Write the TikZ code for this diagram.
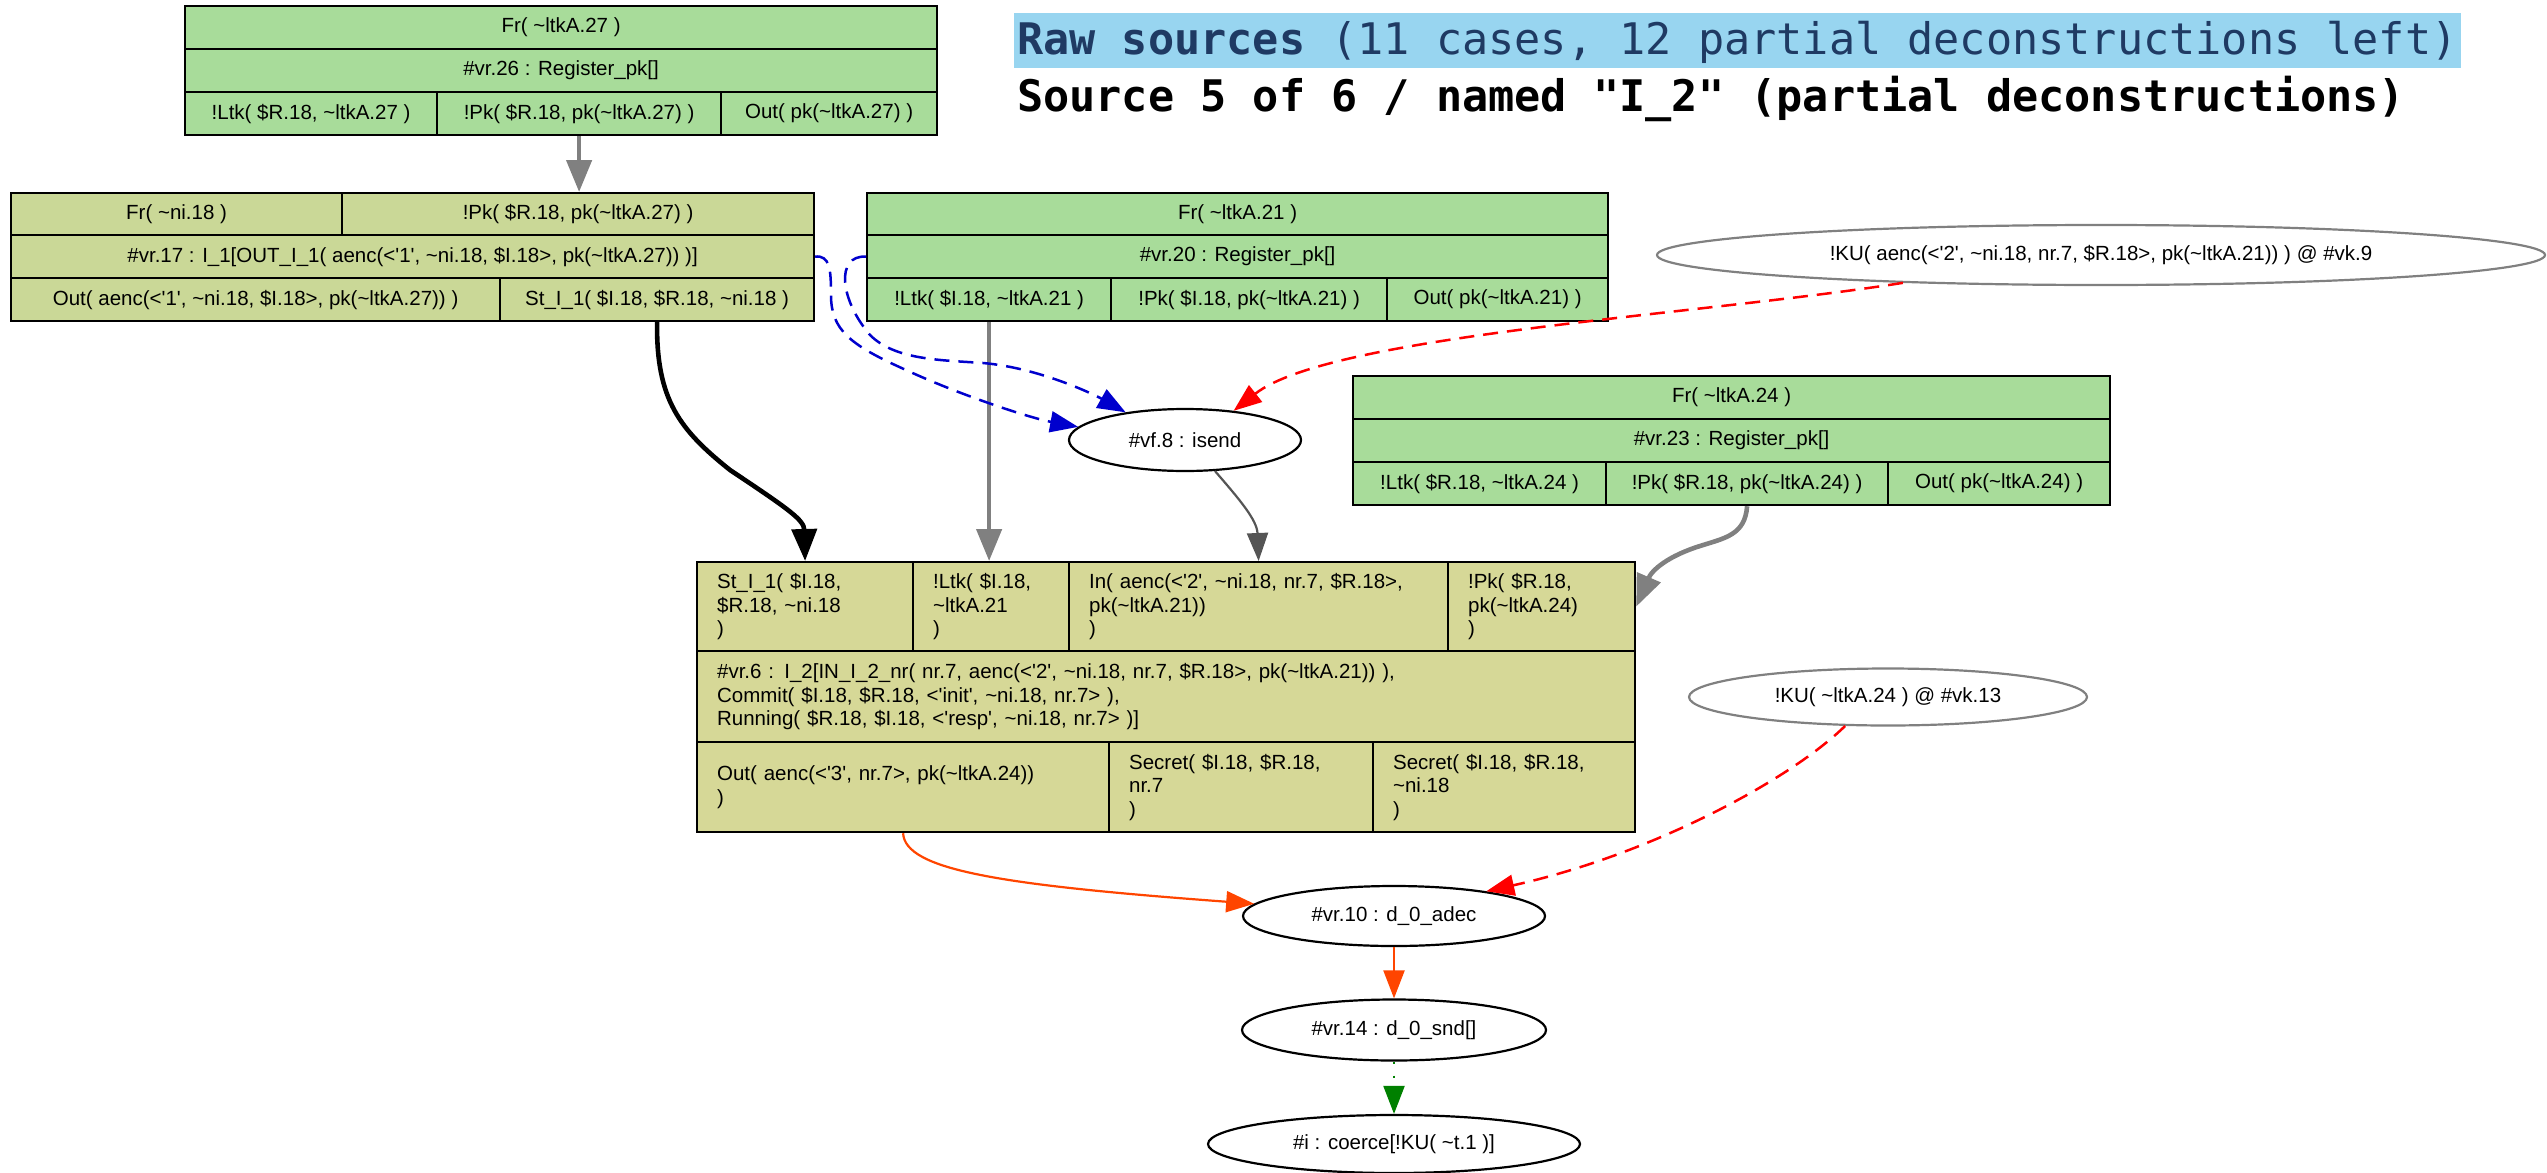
\documentclass[tikz,border=0pt]{standalone}
\usepackage{fontspec}
\setmainfont{Liberation Sans}[Ligatures=TeXOff]
\newfontfamily\titlefont{DejaVu Sans Mono}[Ligatures=TeXOff]
\usetikzlibrary{arrows.meta,shapes.geometric}
\newcommand\tld{\textasciitilde}
\newcommand\lbl{\fontsize{20.5}{23.5}\selectfont}
\definecolor{regfill}{HTML}{A8DC9A}
\definecolor{ruleafill}{HTML}{CAD897}
\definecolor{rulebfill}{HTML}{D6D897}
\definecolor{titlebg}{HTML}{98D5F0}
\definecolor{titleblue}{HTML}{1F3A63}
\definecolor{edgegray}{HTML}{808080}
\definecolor{darkedge}{HTML}{555555}
\definecolor{dashblue}{HTML}{0000CD}
\definecolor{orangered}{HTML}{FF4500}
\definecolor{darkgreen}{HTML}{008000}

\tikzset{
  cell/.style={draw=black, line width=2.2pt, inner sep=0pt, anchor=north west, font=\lbl, align=center},
  lcell/.style={cell, align=left, inner xsep=20pt},
  fact/.style={ellipse, draw=black, line width=2.2pt, inner sep=0pt, font=\lbl},
  kfact/.style={fact, draw=edgegray},
  tip/.style={-{Triangle[length=28pt,width=21pt]}},
  plain/.style={line width=2.2pt, tip},
  heavy/.style={line width=4.6pt, -{Triangle[length=32pt,width=25pt]}},
  dashedge/.style={line width=2.5pt, dash pattern=on 15pt off 9pt, tip},
  titletext/.style={anchor=base west, inner sep=0pt, font=\titlefont\fontsize{43.5}{50}\selectfont},
}

\begin{document}
\begin{tikzpicture}[x=1pt,y=-1pt]
\useasboundingbox (0,0) rectangle (2547,1172);

% heading
\node[titletext, fill=titlebg, text=titleblue, inner xsep=3pt, text height=42pt, text depth=13pt] (head1) at (1014,55)
  {\textbf{Raw sources} (11 cases, 12 partial deconstructions left)};
\node[titletext] (head2) at (1017,111)
  {\textbf{Source 5 of 6 / named "I\_2" (partial deconstructions)}};

% rule #vr.26 : Register_pk
\node[cell, fill=regfill, minimum width=752pt, minimum height=43pt] (aFr) at (184,5) {Fr( \tld ltkA.27 )};
\node[cell, fill=regfill, minimum width=752pt, minimum height=43pt] (aReg) at (184,48) {\#vr.26 : Register\_pk[]};
\node[cell, fill=regfill, minimum width=252pt, minimum height=43pt] (aLtk) at (184,91) {!Ltk( \$R.18, \tld ltkA.27 )};
\node[cell, fill=regfill, minimum width=284pt, minimum height=43pt] (aPk) at (436,91) {!Pk( \$R.18, pk(\tld ltkA.27) )};
\node[cell, fill=regfill, minimum width=216pt, minimum height=43pt] (aOut) at (720,91) {Out( pk(\tld ltkA.27) )};

% rule #vr.17 : I_1
\node[cell, fill=ruleafill, minimum width=331pt, minimum height=42pt] (bFr) at (10,192) {Fr( \tld ni.18 )};
\node[cell, fill=ruleafill, minimum width=472pt, minimum height=42pt] (bPk) at (341,192) {!Pk( \$R.18, pk(\tld ltkA.27) )};
\node[cell, fill=ruleafill, minimum width=803pt, minimum height=43pt] (bMid) at (10,234) {\#vr.17 : I\_1[OUT\_I\_1( aenc(<'1', \tld ni.18, \$I.18>, pk(\tld ltkA.27)) )]};
\node[cell, fill=ruleafill, minimum width=489pt, minimum height=43pt] (bOut) at (10,277) {Out( aenc(<'1', \tld ni.18, \$I.18>, pk(\tld ltkA.27)) )};
\node[cell, fill=ruleafill, minimum width=314pt, minimum height=43pt] (bSt) at (499,277) {St\_I\_1( \$I.18, \$R.18, \tld ni.18 )};

% rule #vr.20 : Register_pk
\node[cell, fill=regfill, minimum width=741pt, minimum height=42pt] (cFr) at (866,192) {Fr( \tld ltkA.21 )};
\node[cell, fill=regfill, minimum width=741pt, minimum height=43pt] (cReg) at (866,234) {\#vr.20 : Register\_pk[]};
\node[cell, fill=regfill, minimum width=244pt, minimum height=43pt] (cLtk) at (866,277) {!Ltk( \$I.18, \tld ltkA.21 )};
\node[cell, fill=regfill, minimum width=276pt, minimum height=43pt] (cPk) at (1110,277) {!Pk( \$I.18, pk(\tld ltkA.21) )};
\node[cell, fill=regfill, minimum width=221pt, minimum height=43pt] (cOut) at (1386,277) {Out( pk(\tld ltkA.21) )};

% rule #vr.23 : Register_pk
\node[cell, fill=regfill, minimum width=757pt, minimum height=43pt] (dFr) at (1352,375) {Fr( \tld ltkA.24 )};
\node[cell, fill=regfill, minimum width=757pt, minimum height=43pt] (dReg) at (1352,418) {\#vr.23 : Register\_pk[]};
\node[cell, fill=regfill, minimum width=253pt, minimum height=43pt] (dLtk) at (1352,461) {!Ltk( \$R.18, \tld ltkA.24 )};
\node[cell, fill=regfill, minimum width=282pt, minimum height=43pt] (dPk) at (1605,461) {!Pk( \$R.18, pk(\tld ltkA.24) )};
\node[cell, fill=regfill, minimum width=222pt, minimum height=43pt] (dOut) at (1887,461) {Out( pk(\tld ltkA.24) )};

% rule #vr.6 : I_2
\node[lcell, fill=rulebfill, text width=176pt, minimum height=89pt] (eSt) at (696,561) {St\_I\_1( \$I.18,\\ \$R.18, \tld ni.18\\ )};
\node[lcell, fill=rulebfill, text width=116pt, minimum height=89pt] (eLtk) at (912,561) {!Ltk( \$I.18,\\ \tld ltkA.21\\ )};
\node[lcell, fill=rulebfill, text width=339pt, minimum height=89pt] (eIn) at (1068,561) {In( aenc(<'2', \tld ni.18, nr.7, \$R.18>,\\ pk(\tld ltkA.21))\\ )};
\node[lcell, fill=rulebfill, text width=147pt, minimum height=89pt] (ePk) at (1447,561) {!Pk( \$R.18,\\ pk(\tld ltkA.24)\\ )};
\node[lcell, fill=rulebfill, text width=898pt, minimum height=91pt] (eMid) at (696,650) {\#vr.6 : I\_2[IN\_I\_2\_nr( nr.7, aenc(<'2', \tld ni.18, nr.7, \$R.18>, pk(\tld ltkA.21)) ),\\ Commit( \$I.18, \$R.18, <'init', \tld ni.18, nr.7> ),\\ Running( \$R.18, \$I.18, <'resp', \tld ni.18, nr.7> )]};
\node[lcell, fill=rulebfill, text width=372pt, minimum height=90pt] (eOut) at (696,741) {Out( aenc(<'3', nr.7>, pk(\tld ltkA.24))\\ )};
\node[lcell, fill=rulebfill, text width=224pt, minimum height=90pt] (eSecA) at (1108,741) {Secret( \$I.18, \$R.18,\\ nr.7\\ )};
\node[lcell, fill=rulebfill, text width=222pt, minimum height=90pt] (eSecB) at (1372,741) {Secret( \$I.18, \$R.18,\\ \tld ni.18\\ )};

% single facts
\node[fact, minimum width=232pt, minimum height=62pt] (isend) at (1185,440) {\#vf.8 : isend};
\node[kfact, minimum width=888pt, minimum height=60pt] (kuA) at (2101,255) {!KU( aenc(<'2', \tld ni.18, nr.7, \$R.18>, pk(\tld ltkA.21)) ) @ \#vk.9};
\node[kfact, minimum width=398pt, minimum height=57pt] (kuB) at (1888,697) {!KU( \tld ltkA.24 ) @ \#vk.13};
\node[fact, minimum width=302pt, minimum height=60pt] (adec) at (1394,916) {\#vr.10 : d\_0\_adec};
\node[fact, minimum width=304pt, minimum height=61pt] (snd) at (1394,1030) {\#vr.14 : d\_0\_snd[]};
\node[fact, minimum width=372pt, minimum height=58pt] (coerce) at (1394,1144) {\#i : coerce[!KU( \tld t.1 )]};

% premise links
\draw[heavy, draw=edgegray] (aPk.south) -- (aPk.south |- bPk.north);
\draw[heavy, draw=edgegray] (cLtk.south) -- (cLtk.south |- eLtk.north);
\draw[heavy, draw=black] (bSt.south) .. controls (656,400) and (680,430) .. (730,470)
  .. controls (790,510) and (804,520) .. (eSt.north);
\draw[heavy, draw=edgegray] (dPk.south) .. controls (1745,535) and (1725,538) .. (1700,546)
  .. controls (1668,556) and (1652,570) .. (ePk.east);
\draw[plain, draw=darkedge] (isend.-46) .. controls (1240,500) and (1257,520) .. (eIn.north);

% ordering constraints
\draw[dashedge, draw=dashblue] (cReg.west) .. controls (835,255) and (840,300) .. (870,335)
  .. controls (895,360) and (940,360) .. (983,363) .. controls (1040,368) and (1095,395) .. (isend.155);
\draw[dashedge, draw=dashblue] (bMid.east) .. controls (830,255) and (831,270) .. (831,295)
  .. controls (831,330) and (850,345) .. (906,370) .. controls (960,395) and (1030,418) .. (isend.173);
\draw[dashedge, draw=red] (kuA.188) .. controls (1700,315) and (1330,335) .. (isend.31);
\draw[dashedge, draw=red] (kuB.214) .. controls (1790,780) and (1650,855) .. (adec.15);

% deconstruction chain
\draw[plain, draw=orangered] (eOut.south) .. controls (905,870) and (1000,885) .. (adec.175);
\draw[plain, draw=orangered] (adec.south) -- (snd.north);
\draw[plain, draw=darkgreen, dash pattern=on 2pt off 12pt] (snd.south) -- (coerce.north);
\end{tikzpicture}
\end{document}
